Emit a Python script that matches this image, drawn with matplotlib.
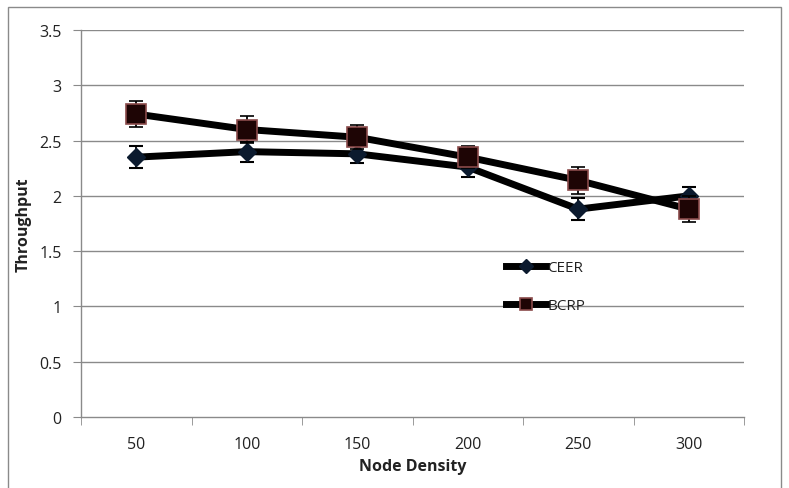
import matplotlib
matplotlib.use("Agg")
import matplotlib.pyplot as plt
from matplotlib.patches import Rectangle
from matplotlib.lines import Line2D
import numpy as np

categories = ["50", "100", "150", "200", "250", "300"]
ceer = [2.35, 2.40, 2.38, 2.26, 1.88, 2.00]
bcrp = [2.74, 2.60, 2.53, 2.35, 2.14, 1.88]
ceer_err = [0.10, 0.09, 0.08, 0.09, 0.10, 0.08]
bcrp_err = [0.12, 0.12, 0.11, 0.10, 0.12, 0.12]

plt.rcParams['font.family'] = ['Open Sans', 'DejaVu Sans']

fig = plt.figure(figsize=(7.89, 4.89), dpi=100)
ax = fig.add_axes([81/789, 71/489, (744-81)/789, (418-31)/489])

x = np.arange(len(categories))
grid_c = "#8a8a8a"
for v in np.arange(0.5, 3.51, 0.5):
    ax.axhline(v, color=grid_c, lw=1.0, zorder=0)

ceer_style = dict(color="black", lw=5, marker="D", mfc="#0b1a2e", mec="#0b1a2e")
bcrp_style = dict(color="black", lw=5, marker="s", mfc="#1e0505", mec="#8a4a4a", mew=1.2)

ax.errorbar(x, ceer, yerr=ceer_err, ms=9.5, ecolor="black", elinewidth=1.3,
            capsize=5, capthick=1.5, zorder=3, **ceer_style)
ax.errorbar(x, bcrp, yerr=bcrp_err, ms=14, ecolor="black", elinewidth=1.3,
            capsize=5, capthick=1.5, zorder=4, **bcrp_style)

ax.set_xlim(-0.5, 5.5)
ax.set_ylim(0, 3.5)
ax.set_yticks(np.arange(0, 3.51, 0.5))
ax.set_yticklabels(["0", "0.5", "1", "1.5", "2", "2.5", "3", "3.5"])
ax.set_xticks(x)
ax.set_xticklabels(categories)
ax.set_xticks(np.arange(-0.5, 5.6, 1), minor=True)
ax.tick_params(axis="x", which="major", length=0, pad=14, labelsize=11.5, colors="#222222")
ax.tick_params(axis="x", which="minor", length=6, color=grid_c, direction="out")
ax.tick_params(axis="y", length=6, color=grid_c, direction="out", labelsize=11.5,
               colors="#222222", pad=8)
ax.tick_params(axis="y", colors=grid_c, labelcolor="#222222")

for s in ["top", "right"]:
    ax.spines[s].set_visible(False)
for s in ["left", "bottom"]:
    ax.spines[s].set_color(grid_c)
    ax.spines[s].set_linewidth(1.0)

ax.set_xlabel("Node Density", fontsize=11.5, fontweight="bold", labelpad=4, color="#222222")
ax.set_ylabel("Throughput", fontsize=11.5, fontweight="bold", color="#222222")
ax.yaxis.set_label_coords(-0.075, 0.5)

handles = [Line2D([], [], ms=7, **ceer_style), Line2D([], [], ms=9, **bcrp_style)]
leg = ax.legend(handles, ["CEER", "BCRP"], loc="upper left", bbox_to_anchor=(0.62, 0.44),
                frameon=False, fontsize=11, handlelength=2.6, labelspacing=1.5,
                handletextpad=0.1)
for t in leg.get_texts():
    t.set_color("#222222")

fig.patches.append(Rectangle((8/789, -0.01), (781-8)/789, (489-8)/489 + 0.01,
                             transform=fig.transFigure, fill=False,
                             edgecolor="#8a8a8a", lw=1.0))

fig.savefig("out.png", dpi=100)
